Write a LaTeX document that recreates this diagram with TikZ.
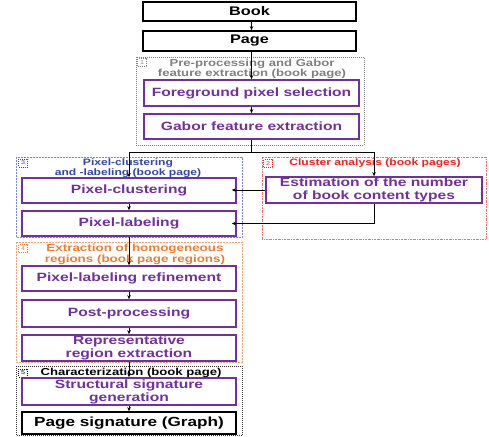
\documentclass[tikz,border=0pt]{standalone}
\usepackage{fontspec}
\setmainfont{Liberation Sans}[FakeStretch=1.3]
\usetikzlibrary{arrows.meta,calc}
\definecolor{purp}{HTML}{7030A0}
\definecolor{grp}{HTML}{7F7F7F}
\definecolor{bluet}{RGB}{50,70,165}
\definecolor{blueb}{RGB}{120,130,210}
\definecolor{redt}{RGB}{245,30,30}
\definecolor{redb}{RGB}{245,110,110}
\definecolor{orat}{HTML}{ED7D31}
\definecolor{orab}{RGB}{245,160,110}
\tikzset{
  blk/.style={draw=black,line width=1.6pt,minimum width=213pt,inner sep=0pt,font=\fontsize{12.5}{13}\selectfont\bfseries,text=black},
  pbox/.style={draw=purp,line width=1.6pt,inner sep=0pt,align=center,font=\fontsize{12}{13}\selectfont\bfseries,text=purp},
  grpbox/.style={line width=0.6pt,dash pattern=on 2pt off 1pt},
  num/.style={draw,line width=0.5pt,dash pattern=on 1pt off 1pt,inner sep=0.6pt,minimum width=9pt,minimum height=8pt,font=\fontsize{5.5}{5.5}\selectfont},
  glabel/.style={align=center,font=\fontsize{10.1}{10.5}\selectfont\bfseries,inner sep=0pt},
  arr/.style={draw=black,line width=0.8pt,-{Stealth[length=4pt,width=3.5pt]}}
}
\begin{document}
\begin{tikzpicture}[x=1pt,y=-1pt]
\useasboundingbox (0,0) rectangle (489,436);
% group frames
\draw[grpbox,draw=grp,dash pattern=on 1pt off 1pt] (136,57) rectangle (364,145);
\draw[grpbox,draw=blueb] (16,157) rectangle (242,237.5);
\draw[grpbox,draw=redb,dash pattern=on 2pt off 1pt on 0.5pt off 1pt] (262,157) rectangle (486,239);
\draw[grpbox,draw=orab] (16,242) rectangle (242,362);
\draw[grpbox,draw=black!80,dash pattern=on 1pt off 1pt] (16,366) rectangle (242,435.5);
% group labels
\node[num,draw=grp,text=grp] (n1) at (142,62.5) {1};
\node[glabel,text=grp] (l1) at (252,69) {Pre-processing and Gabor\\feature extraction (book page)};
\node[num,draw=bluet,text=bluet] (n3) at (23,163) {3};
\node[glabel,text=bluet,font=\fontsize{9.3}{10}\selectfont\bfseries] (l3) at (128,168.5) {Pixel-clustering\\and -labeling (book page)};
\node[num,draw=redt,text=redt] (n2) at (268,163.5) {2};
\node[glabel,text=redt,font=\fontsize{9.3}{10}\selectfont\bfseries] (l2) at (375,163.5) {Cluster analysis (book pages)};
\node[num,draw=orat,text=orat] (n4) at (23,248.5) {4};
\node[glabel,text=orat,font=\fontsize{10.3}{11}\selectfont\bfseries] (l4) at (135,254) {Extraction of homogeneous\\regions (book page regions)};
\node[num,draw=black,text=black] (n5) at (23,373) {5};
\node[glabel,text=black] (l5) at (131,373) {Characterization (book page)};
% main boxes
\node[blk,minimum height=19pt] (book) at (249.5,11.5) {Book};
\node[blk,minimum height=20pt] (page) at (249.5,41) {Page};
\node[pbox,minimum width=215pt,minimum height=26pt] (fg) at (251.5,93) {Foreground pixel selection};
\node[pbox,minimum width=215pt,minimum height=25pt] (gabor) at (251.5,126.5) {Gabor feature extraction};
\node[pbox,minimum width=214pt,minimum height=25pt] (pc) at (129,190.5) {Pixel-clustering};
\node[pbox,minimum width=214pt,minimum height=25pt] (pl) at (129,223.5) {Pixel-labeling};
\node[pbox,minimum width=216pt,minimum height=26pt] (est) at (374,190) {Estimation of the number\\of book content types};
\node[pbox,minimum width=214pt,minimum height=25pt] (plr) at (129,278.5) {Pixel-labeling refinement};
\node[pbox,minimum width=214pt,minimum height=27pt] (pp) at (129,313.5) {Post-processing};
\node[pbox,minimum width=214pt,minimum height=26pt] (rre) at (129,348) {Representative\\region extraction};
\node[pbox,minimum width=214pt,minimum height=27pt] (ssg) at (129,391.5) {Structural signature\\generation};
\node[blk,minimum width=214pt,minimum height=22pt,font=\fontsize{13.2}{14}\selectfont\bfseries] (ps) at (129,423) {Page signature (Graph)};
% connectors
\coordinate (split) at (251.5,152);
\draw[arr] (book.south -| 251.5,0) -- (page.north -| 251.5,0);
\draw[arr] (page.south -| fg.north) -- (fg.north);
\draw[arr] (fg) -- (gabor);
\draw[line width=0.8pt] (gabor.south) -- (split);
\draw[arr] (split) -| (pc.north);
\draw[arr] (split) -| (est.north);
\draw[arr,shorten >=-5pt] (est.west) -- (est.west -| pc.east);
\draw[arr,shorten >=-5pt] (est.south) |- (pl.east);
\draw[arr] (pc) -- (pl);
\draw[arr] (pl) -- (plr);
\draw[arr] (plr) -- (pp);
\draw[arr] (pp) -- (rre);
\draw[arr] (rre) -- (ssg);
\draw[arr] (ssg) -- (ps);
\end{tikzpicture}
\end{document}
